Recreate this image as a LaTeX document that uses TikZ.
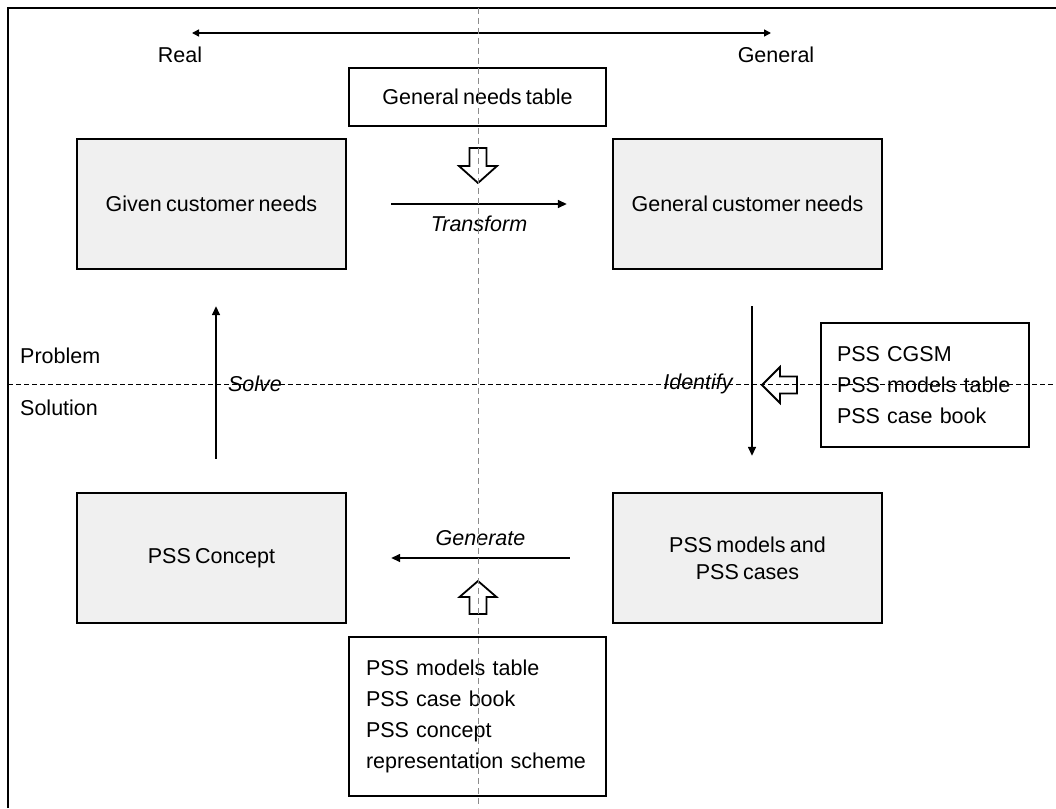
\documentclass[tikz,border=0pt]{standalone}
\usepackage{fontspec}
\setmainfont{Liberation Sans}[WordSpace=0.7]
\usetikzlibrary{arrows.meta}
\definecolor{boxgray}{HTML}{F0F0F0}
\definecolor{dashgray}{HTML}{8C8C8C}
\tikzset{
  gbox/.style={draw=black, line width=2.4pt, fill=boxgray, minimum width=269pt, minimum height=130pt, inner sep=0pt, align=center},
  wbox/.style={draw=black, line width=1.1pt, fill=white, inner sep=0pt},
  lbl/.style={inner sep=0pt},
  conn/.style={line width=1.5pt, -{Triangle[length=9pt,width=8pt]}},
  hollow/.style={draw=black, line width=1.8pt, fill=white, line join=miter},
  vdash/.style={draw=dashgray, line width=1pt, dash pattern=on 6pt off 4pt},
  hdash/.style={draw=black, line width=1pt, dash pattern=on 5pt off 3pt},
}
\begin{document}
\begin{tikzpicture}[x=1pt, y=-1pt, font=\fontsize{21.5}{31}\selectfont]
\useasboundingbox (0,0) rectangle (1056,808);
% frame
\draw[line width=2.5pt] (8,808) -- (8,8) -- (1056,8);

% top scale
\node[lbl] (real) at (180,55) {Real};
\node[lbl] (general) at (776,55) {General};
\coordinate (scaleL) at (192,33);
\coordinate (scaleR) at (771,33);
\draw[line width=1.5pt, {Triangle[length=7pt,width=7pt]}-{Triangle[length=7pt,width=7pt]}] (scaleL) -- (scaleR);

% boxes
\node[wbox, minimum width=257pt, minimum height=58pt] (gnt) at (477.5,97) {General needs table};
\node[gbox] (given) at (211.5,204) {Given customer needs};
\node[gbox] (gcn) at (747.5,204) {General customer needs};
\node[gbox] (concept) at (211.5,558) {PSS Concept};
\node[gbox, font=\fontsize{21.5}{27}\selectfont] (models) at (747.5,558) {PSS models and\\PSS cases};
\node[wbox, text width=176pt, inner xsep=16pt, minimum height=124pt, align=left] (tools1) at (925,385) {PSS CGSM\\PSS models table\\PSS case book};
\node[wbox, text width=223pt, inner xsep=17pt, minimum height=159pt, align=left] (tools2) at (477.5,716.5) {PSS models table\\PSS case book\\PSS concept\\representation scheme};

% side labels
\node[lbl, anchor=west] (problem) at (20,356) {Problem};
\node[lbl, anchor=west] (solution) at (20,408) {Solution};

% connectors
\draw[conn] ([xshift=44pt]given.east) -- node[lbl, below=11pt] (transform) {\itshape Transform} ([xshift=-45pt]gcn.west);
\draw[conn] ([xshift=4.5pt,yshift=33pt]concept.north) -- ([xshift=4.5pt,yshift=-36pt]given.south);
\draw[conn] ([xshift=4.5pt,yshift=-36pt]gcn.south) -- ([xshift=4.5pt,yshift=36pt]models.north);
\draw[conn] ([xshift=-42pt]models.west) -- node[lbl, above=12pt] (generate) {\itshape Generate} ([xshift=44pt]concept.east);
\node[lbl] (solve) at (255,384) {\itshape Solve};
\node[lbl] (identify) at (698,384) {\itshape Identify};

% hollow block arrows
\draw[hollow] (469.5,148) -- (486.5,148) -- (486.5,166) -- (497,166) -- (478,183) -- (459,166) -- (469.5,166) -- cycle;
\draw[hollow] (469.5,614) -- (486.5,614) -- (486.5,597) -- (496.5,597) -- (478,581) -- (459.5,597) -- (469.5,597) -- cycle;
\draw[hollow] (797,376.5) -- (797,393.5) -- (780,393.5) -- (780,403) -- (762,385) -- (780,367) -- (780,376.5) -- cycle;

% dashed guide lines
\draw[vdash] (478,8) -- (478,808);
\draw[hdash] (8,384) -- (1056,384);
\end{tikzpicture}
\end{document}
